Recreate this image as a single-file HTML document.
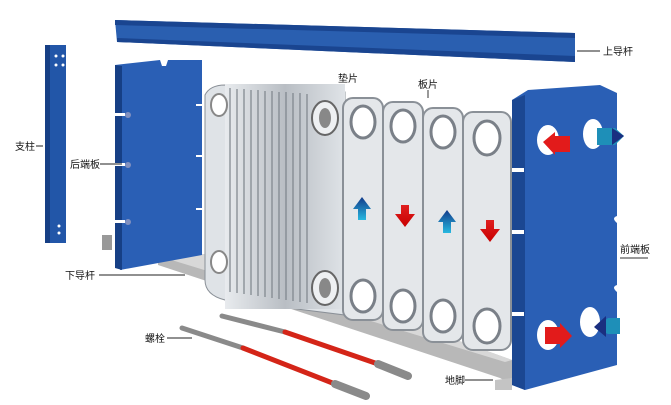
<!DOCTYPE html>
<html><head><meta charset="utf-8"><style>
html,body{margin:0;padding:0;background:#fff;}
svg{display:block;}
text{font-family:"Liberation Sans","Noto Sans CJK SC",sans-serif;font-size:10px;fill:#111;}
</style></head><body>
<svg width="671" height="405" viewBox="0 0 671 405" xmlns="http://www.w3.org/2000/svg">
<defs>
<linearGradient id="pack" x1="0" x2="1">
<stop offset="0" stop-color="#e8ebee"/><stop offset="0.5" stop-color="#b9bec4"/><stop offset="1" stop-color="#dfe3e7"/>
</linearGradient>
<linearGradient id="bl" x1="0" y1="0" x2="0" y2="1"><stop offset="0" stop-color="#123a8a"/><stop offset="1" stop-color="#27b8e0"/></linearGradient>
<linearGradient id="rd" x1="0" y1="0" x2="0" y2="1"><stop offset="0" stop-color="#e02020"/><stop offset="1" stop-color="#c80000"/></linearGradient>
</defs>
<!-- top rail -->
<polygon points="115,20 575,33 575,62 117,42" fill="#2a5fb0"/>
<polygon points="115,20 575,33 575,38 115,25" fill="#1a4590"/>
<polygon points="117,38 575,56 575,62 117,42" fill="#1a4590"/>
<line x1="577" y1="51" x2="600" y2="51" stroke="#222"/>
<text x="603" y="55">上导杆</text>
<!-- pillar -->
<rect x="45" y="45" width="21" height="198" fill="#2256a8"/>
<rect x="45" y="45" width="5" height="198" fill="#163f85"/>
<circle cx="56" cy="56" r="1.5" fill="#fff"/><circle cx="63" cy="56" r="1.5" fill="#fff"/>
<circle cx="56" cy="65" r="1.5" fill="#fff"/><circle cx="63" cy="65" r="1.5" fill="#fff"/>
<circle cx="59" cy="226" r="1.5" fill="#fff"/><circle cx="59" cy="233" r="1.5" fill="#fff"/>
<text x="15" y="150">支柱</text><line x1="36" y1="146" x2="43" y2="146" stroke="#222"/>
<!-- lower rail -->
<polygon points="102,235 112,235 112,250 102,250" fill="#999"/>
<polygon points="158,252 220,255 512,360 512,385 500,378 158,265" fill="#b8b8b8"/>
<polygon points="158,252 220,255 512,360 505,362 165,258" fill="#d8d8d8"/>
<!-- back end plate -->
<polygon points="115,65 160,60 162,66 166,66 168,60 202,60 202,255 120,270" fill="#2a5fb5"/>
<polygon points="115,65 122,66 122,270 115,268" fill="#163f85"/>
<circle cx="128" cy="115" r="3" fill="#8090c0"/><circle cx="128" cy="165" r="3" fill="#8090c0"/><circle cx="128" cy="222" r="3" fill="#8090c0"/>
<rect x="115" y="113" width="10" height="3" fill="#fff"/><rect x="115" y="163" width="10" height="3" fill="#fff"/><rect x="115" y="220" width="10" height="3" fill="#fff"/>
<rect x="196" y="104" width="6" height="2" fill="#fff"/><rect x="196" y="155" width="6" height="2" fill="#fff"/><rect x="196" y="208" width="6" height="2" fill="#fff"/>
<text x="70" y="168">后端板</text><line x1="100" y1="164" x2="122" y2="164" stroke="#222"/>
<text x="65" y="279">下导杆</text><line x1="99" y1="275" x2="185" y2="275" stroke="#222"/>
<!-- plate pack -->
<path d="M205,95 Q210,85 225,85 L345,92 L345,315 L225,300 Q205,295 205,280 Z" fill="#dfe3e7" stroke="#8a9097"/>
<rect x="225" y="84" width="120" height="225" fill="url(#pack)"/>
<g stroke="#7d848b" stroke-width="1.2" fill="none">
<path d="M230,88 V292"/><path d="M237,89 V293"/><path d="M244,89 V294"/><path d="M251,90 V295"/><path d="M258,90 V296"/><path d="M265,91 V297"/><path d="M272,91 V298"/><path d="M279,92 V299"/><path d="M286,92 V300"/><path d="M293,93 V301"/><path d="M300,93 V302"/><path d="M307,94 V303"/>
</g>
<ellipse cx="325" cy="118" rx="13" ry="17" fill="#eef0f2" stroke="#666" stroke-width="2"/>
<ellipse cx="325" cy="118" rx="6" ry="10" fill="#888"/>
<ellipse cx="325" cy="288" rx="13" ry="17" fill="#eef0f2" stroke="#666" stroke-width="2"/>
<ellipse cx="325" cy="288" rx="6" ry="10" fill="#888"/>
<ellipse cx="219" cy="105" rx="8" ry="11" fill="#fff" stroke="#888" stroke-width="2"/>
<ellipse cx="219" cy="262" rx="8" ry="11" fill="#fff" stroke="#888" stroke-width="2"/>
<!-- individual plates -->
<g stroke="#8a9097" stroke-width="2" fill="#e4e7ea">
<rect x="343" y="98" width="40" height="222" rx="10"/>
<rect x="383" y="102" width="40" height="228" rx="10"/>
<rect x="423" y="108" width="40" height="234" rx="10"/>
<rect x="463" y="112" width="48" height="238" rx="10"/>
</g>
<g stroke="#7a8088" stroke-width="3" fill="#fff">
<ellipse cx="363" cy="122" rx="12" ry="16"/><ellipse cx="363" cy="296" rx="12" ry="16"/>
<ellipse cx="403" cy="126" rx="12" ry="16"/><ellipse cx="403" cy="306" rx="12" ry="16"/>
<ellipse cx="443" cy="132" rx="12" ry="16"/><ellipse cx="443" cy="316" rx="12" ry="16"/>
<ellipse cx="487" cy="138" rx="13" ry="17"/><ellipse cx="487" cy="326" rx="13" ry="17"/>
</g>
<!-- arrows -->
<polygon points="362,197 371,209 366,209 366,220 358,220 358,209 353,209" fill="url(#bl)"/>
<polygon points="401,205 409,205 409,214 415,214 405,227 395,214 401,214" fill="url(#rd)"/>
<polygon points="447,210 456,222 451,222 451,233 443,233 443,222 438,222" fill="url(#bl)"/>
<polygon points="486,220 494,220 494,229 500,229 490,242 480,229 486,229" fill="url(#rd)"/>
<text x="338" y="82">垫片</text>
<text x="418" y="88">板片</text>
<line x1="428" y1="90" x2="428" y2="98" stroke="#333"/>
<!-- front end plate -->
<path d="M512,100 L528,90 L600,85 L617,93 L617,365 L525,390 L512,385 Z" fill="#2a5fb5"/>
<path d="M512,100 L525,95 L525,390 L512,385 Z" fill="#1b4792"/>
<g fill="#fff">
<rect x="512" y="168" width="12" height="4"/><rect x="512" y="230" width="12" height="4"/><rect x="512" y="312" width="12" height="4"/>
<path d="M617,216 q-6,2 0,7 z"/><path d="M617,285 q-6,2 0,7 z"/>
<ellipse cx="548" cy="140" rx="11" ry="15"/><ellipse cx="593" cy="134" rx="10" ry="15"/>
<ellipse cx="548" cy="335" rx="11" ry="15"/><ellipse cx="590" cy="322" rx="10" ry="15"/>
</g>
<polygon points="543,142 555,132 555,136 570,136 570,152 555,152 555,155" fill="#e21b1b"/>
<polygon points="597,128 615,128 624,136 615,145 597,145" fill="#1e8fb8"/>
<polygon points="612,128 624,136 612,145" fill="#1a2f80"/>
<polygon points="545,327 560,327 560,323 572,336 560,348 560,344 545,344" fill="#e21b1b"/>
<polygon points="595,328 608,318 620,318 620,334 608,334" fill="#1e8fb8"/>
<polygon points="594,327 606,316 606,337" fill="#1a2f80"/>
<line x1="620" y1="258" x2="648" y2="258" stroke="#333"/>
<text x="620" y="253">前端板</text>
<!-- foot -->
<polygon points="495,380 512,378 512,390 495,390" fill="#c4c4c4"/>
<text x="445" y="384">地脚</text><line x1="465" y1="380" x2="493" y2="380" stroke="#222"/>
<!-- bolts -->
<g stroke-linecap="round">
<line x1="222" y1="316" x2="285" y2="332" stroke="#8a8a8a" stroke-width="5"/>
<line x1="285" y1="332" x2="378" y2="364" stroke="#d42518" stroke-width="5"/>
<line x1="378" y1="364" x2="408" y2="376" stroke="#8a8a8a" stroke-width="8"/>
<line x1="182" y1="328" x2="243" y2="348" stroke="#8a8a8a" stroke-width="5"/>
<line x1="243" y1="348" x2="335" y2="384" stroke="#d42518" stroke-width="5"/>
<line x1="335" y1="384" x2="366" y2="396" stroke="#8a8a8a" stroke-width="8"/>
</g>
<text x="145" y="342">螺栓</text><line x1="167" y1="338" x2="192" y2="338" stroke="#222"/>
</svg>
</body></html>
